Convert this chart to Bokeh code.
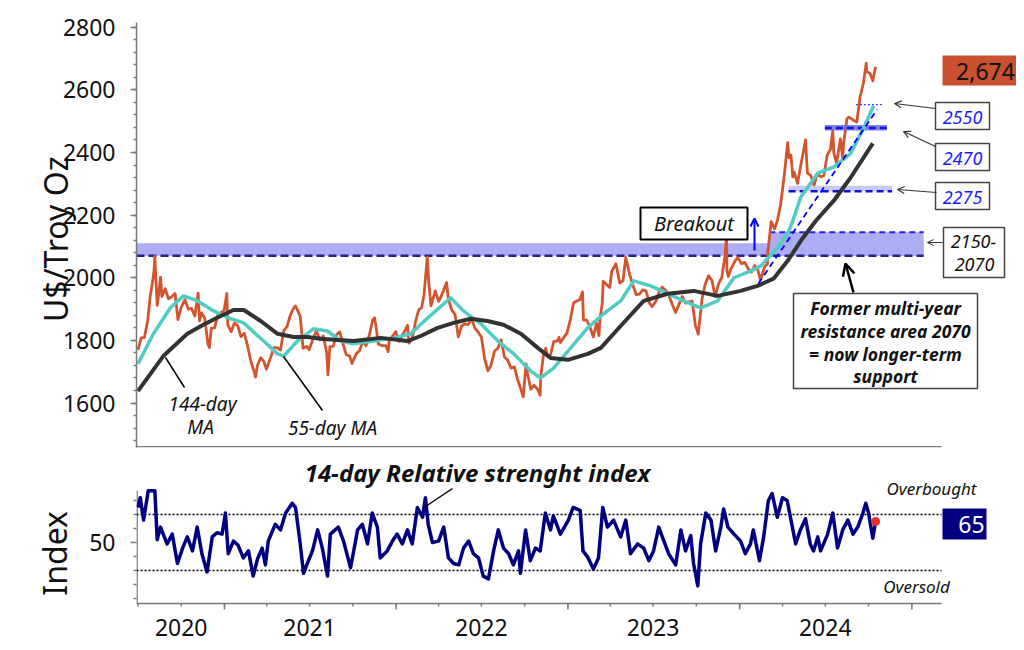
import pandas as pd
from bokeh.plotting import figure
from bokeh.layouts import column
from bokeh.models import (Range1d, LinearAxis, FixedTicker, Label, Arrow, OpenHead,
                          BoxAnnotation, CustomJSTickFormatter, ColumnDataSource)
from bokeh.embed import file_html
from bokeh.resources import INLINE

FONT = "Noto Sans"

# ---------------- data ----------------
price_series = [
    ("2020-07-01", 1770), ("2020-07-08", 1808), ("2020-07-15", 1810), ("2020-07-22", 1865),
    ("2020-07-27", 1940), ("2020-07-31", 1975), ("2020-08-04", 2019), ("2020-08-06", 2068),
    ("2020-08-07", 2035), ("2020-08-11", 1912), ("2020-08-14", 1945), ("2020-08-18", 2002),
    ("2020-08-21", 1940), ("2020-08-28", 1965), ("2020-09-04", 1933), ("2020-09-11", 1940),
    ("2020-09-18", 1950), ("2020-09-24", 1866), ("2020-10-01", 1905), ("2020-10-09", 1930),
    ("2020-10-16", 1900), ("2020-10-23", 1902), ("2020-10-30", 1878), ("2020-11-06", 1951),
    ("2020-11-09", 1862), ("2020-11-13", 1888), ("2020-11-20", 1871), ("2020-11-27", 1788),
    ("2020-11-30", 1777), ("2020-12-04", 1839), ("2020-12-11", 1840), ("2020-12-18", 1882),
    ("2020-12-31", 1895),
    ("2021-01-06", 1950), ("2021-01-08", 1850), ("2021-01-15", 1828), ("2021-01-22", 1855),
    ("2021-01-29", 1848), ("2021-02-05", 1812), ("2021-02-12", 1823), ("2021-02-19", 1783),
    ("2021-02-26", 1734), ("2021-03-05", 1700), ("2021-03-08", 1683), ("2021-03-12", 1720),
    ("2021-03-19", 1745), ("2021-03-26", 1732), ("2021-03-31", 1708), ("2021-04-09", 1745),
    ("2021-04-16", 1777), ("2021-04-23", 1777), ("2021-04-30", 1769), ("2021-05-07", 1831),
    ("2021-05-14", 1844), ("2021-05-21", 1881), ("2021-05-28", 1903), ("2021-06-01", 1910),
    ("2021-06-11", 1877), ("2021-06-17", 1775), ("2021-06-25", 1781), ("2021-06-30", 1770),
    ("2021-07-09", 1808), ("2021-07-15", 1830), ("2021-07-23", 1802), ("2021-07-30", 1814),
    ("2021-08-06", 1763), ("2021-08-09", 1690), ("2021-08-13", 1780), ("2021-08-20", 1781),
    ("2021-08-27", 1818), ("2021-09-03", 1827), ("2021-09-10", 1788), ("2021-09-17", 1754),
    ("2021-09-24", 1750), ("2021-09-29", 1726), ("2021-10-08", 1757), ("2021-10-15", 1767),
    ("2021-10-22", 1796), ("2021-10-29", 1783), ("2021-11-05", 1818), ("2021-11-12", 1865),
    ("2021-11-16", 1872), ("2021-11-19", 1846), ("2021-11-24", 1788), ("2021-12-03", 1783),
    ("2021-12-10", 1783), ("2021-12-15", 1764), ("2021-12-17", 1798), ("2021-12-31", 1828),
    ("2022-01-07", 1797), ("2022-01-14", 1817), ("2022-01-21", 1835), ("2022-01-25", 1848),
    ("2022-01-28", 1791), ("2022-02-04", 1807), ("2022-02-11", 1859), ("2022-02-18", 1898),
    ("2022-02-24", 1904), ("2022-03-01", 1943), ("2022-03-08", 2066), ("2022-03-11", 1988),
    ("2022-03-16", 1910), ("2022-03-18", 1921), ("2022-03-25", 1958), ("2022-04-01", 1925),
    ("2022-04-08", 1945), ("2022-04-18", 1985), ("2022-04-22", 1931), ("2022-04-29", 1897),
    ("2022-05-06", 1883), ("2022-05-13", 1811), ("2022-05-20", 1846), ("2022-05-27", 1853),
    ("2022-06-03", 1850), ("2022-06-10", 1871), ("2022-06-17", 1840), ("2022-06-24", 1827),
    ("2022-07-01", 1811), ("2022-07-08", 1742), ("2022-07-15", 1703), ("2022-07-21", 1718),
    ("2022-07-29", 1766), ("2022-08-05", 1775), ("2022-08-12", 1802), ("2022-08-19", 1747),
    ("2022-08-26", 1737), ("2022-09-02", 1712), ("2022-09-09", 1716), ("2022-09-16", 1675),
    ("2022-09-23", 1644), ("2022-09-28", 1620), ("2022-10-04", 1725), ("2022-10-07", 1695),
    ("2022-10-14", 1644), ("2022-10-21", 1657), ("2022-10-28", 1645), ("2022-11-03", 1625),
    ("2022-11-04", 1680), ("2022-11-10", 1755), ("2022-11-15", 1775), ("2022-11-18", 1751),
    ("2022-11-25", 1755), ("2022-12-02", 1797), ("2022-12-09", 1798), ("2022-12-13", 1810),
    ("2022-12-16", 1793), ("2022-12-30", 1824),
    ("2023-01-06", 1865), ("2023-01-13", 1920), ("2023-01-20", 1926), ("2023-01-26", 1930),
    ("2023-02-01", 1955), ("2023-02-03", 1865), ("2023-02-10", 1865), ("2023-02-17", 1842),
    ("2023-02-24", 1811), ("2023-03-03", 1855), ("2023-03-08", 1815), ("2023-03-10", 1868),
    ("2023-03-15", 1918), ("2023-03-17", 1989), ("2023-03-20", 1985), ("2023-03-24", 1978),
    ("2023-03-31", 1969), ("2023-04-04", 2020), ("2023-04-13", 2045), ("2023-04-21", 1983),
    ("2023-04-28", 1990), ("2023-05-04", 2065), ("2023-05-12", 2011), ("2023-05-19", 1977),
    ("2023-05-26", 1946), ("2023-06-02", 1948), ("2023-06-09", 1961), ("2023-06-16", 1958),
    ("2023-06-23", 1920), ("2023-06-29", 1908), ("2023-07-07", 1925), ("2023-07-14", 1955),
    ("2023-07-20", 1970), ("2023-07-28", 1959), ("2023-08-04", 1942), ("2023-08-11", 1914),
    ("2023-08-18", 1889), ("2023-08-25", 1915), ("2023-09-01", 1940), ("2023-09-08", 1919),
    ("2023-09-15", 1923), ("2023-09-22", 1925), ("2023-09-29", 1848), ("2023-10-05", 1820),
    ("2023-10-13", 1932), ("2023-10-20", 1981), ("2023-10-27", 2006), ("2023-11-03", 1992),
    ("2023-11-10", 1940), ("2023-11-17", 1980), ("2023-11-24", 2001), ("2023-12-01", 2071),
    ("2023-12-04", 2135), ("2023-12-05", 2020), ("2023-12-08", 2004), ("2023-12-13", 2027),
    ("2023-12-22", 2053), ("2023-12-28", 2065),
    ("2024-01-05", 2045), ("2024-01-12", 2049), ("2024-01-19", 2029), ("2024-01-26", 2018),
    ("2024-02-02", 2039), ("2024-02-09", 2024), ("2024-02-14", 1992), ("2024-02-23", 2035),
    ("2024-02-29", 2044), ("2024-03-01", 2083), ("2024-03-08", 2179), ("2024-03-15", 2156),
    ("2024-03-21", 2181), ("2024-03-28", 2233), ("2024-04-05", 2329), ("2024-04-12", 2431),
    ("2024-04-15", 2383), ("2024-04-19", 2392), ("2024-04-23", 2322), ("2024-04-26", 2337),
    ("2024-05-03", 2301), ("2024-05-10", 2360), ("2024-05-17", 2415), ("2024-05-20", 2440),
    ("2024-05-24", 2334), ("2024-05-31", 2327), ("2024-06-07", 2294), ("2024-06-14", 2333),
    ("2024-06-21", 2322), ("2024-06-28", 2326), ("2024-07-05", 2391), ("2024-07-12", 2411),
    ("2024-07-17", 2470), ("2024-07-19", 2400), ("2024-07-25", 2365), ("2024-08-02", 2443),
    ("2024-08-07", 2382), ("2024-08-09", 2431), ("2024-08-16", 2507), ("2024-08-20", 2513),
    ("2024-08-30", 2503), ("2024-09-06", 2497), ("2024-09-13", 2578), ("2024-09-20", 2621),
    ("2024-09-26", 2685), ("2024-09-27", 2658), ("2024-10-04", 2653), ("2024-10-10", 2629),
    ("2024-10-16", 2674),
]

ma55_series = [
    ("2020-07-01", 1725), ("2020-08-03", 1821), ("2020-09-08", 1904), ("2020-10-06", 1942),
    ("2020-11-05", 1926), ("2020-12-09", 1894), ("2021-01-14", 1869), ("2021-02-11", 1856),
    ("2021-03-25", 1798), ("2021-04-24", 1757), ("2021-05-07", 1750), ("2021-06-05", 1798),
    ("2021-07-09", 1837), ("2021-08-08", 1830), ("2021-09-05", 1798), ("2021-10-02", 1789),
    ("2021-11-14", 1798), ("2021-12-27", 1808), ("2022-02-01", 1821), ("2022-03-09", 1872),
    ("2022-04-27", 1936), ("2022-05-24", 1894), ("2022-06-30", 1853), ("2022-08-05", 1798),
    ("2022-09-08", 1757), ("2022-10-14", 1702), ("2022-11-04", 1680), ("2022-12-02", 1712),
    ("2023-01-07", 1776), ("2023-02-12", 1840), ("2023-03-18", 1885), ("2023-04-23", 1926),
    ("2023-05-21", 1990), ("2023-06-26", 1974), ("2023-09-04", 1926), ("2023-10-10", 1904),
    ("2023-11-15", 1926), ("2023-12-20", 2000), ("2024-01-25", 2022), ("2024-02-15", 2038),
    ("2024-03-22", 2096), ("2024-04-12", 2141), ("2024-04-23", 2182), ("2024-05-10", 2258),
    ("2024-06-15", 2334), ("2024-07-19", 2353), ("2024-08-24", 2397), ("2024-09-21", 2480),
    ("2024-10-12", 2550),
]

ma144_series = [
    ("2020-07-01", 1638), ("2020-08-24", 1750), ("2020-10-14", 1821), ("2020-11-17", 1850),
    ("2020-12-24", 1878), ("2021-01-20", 1897), ("2021-02-11", 1897), ("2021-03-19", 1862),
    ("2021-04-24", 1821), ("2021-05-28", 1811), ("2021-06-27", 1811), ("2021-07-24", 1805),
    ("2021-10-02", 1798), ("2021-11-29", 1808), ("2022-01-25", 1798), ("2022-02-22", 1814),
    ("2022-03-30", 1840), ("2022-05-03", 1856), ("2022-06-08", 1869), ("2022-07-14", 1862),
    ("2022-08-17", 1850), ("2022-09-23", 1821), ("2022-10-29", 1776), ("2022-11-25", 1744),
    ("2023-01-01", 1738), ("2023-02-12", 1757), ("2023-03-12", 1776), ("2023-04-23", 1846),
    ("2023-06-11", 1926), ("2023-08-01", 1949), ("2023-09-25", 1958), ("2023-11-15", 1942),
    ("2024-01-03", 1958), ("2024-02-08", 1974), ("2024-03-13", 1997), ("2024-04-12", 2054),
    ("2024-05-10", 2118), ("2024-06-11", 2182), ("2024-07-19", 2246), ("2024-08-24", 2320),
    ("2024-10-10", 2429),
]

rsi_series = [
    ("2020-07-01", 75), ("2020-07-06", 82), ("2020-07-13", 66), ("2020-07-23", 87),
    ("2020-07-30", 87), ("2020-08-06", 87), ("2020-08-11", 52), ("2020-08-18", 61),
    ("2020-09-01", 49), ("2020-09-12", 56), ("2020-09-23", 35), ("2020-10-04", 46),
    ("2020-10-14", 54), ("2020-10-25", 44), ("2020-11-04", 61), ("2020-11-14", 42),
    ("2020-11-25", 29), ("2020-12-06", 54), ("2020-12-16", 57), ("2020-12-27", 56),
    ("2021-01-03", 71), ("2021-01-09", 42), ("2021-01-20", 51), ("2021-01-30", 48),
    ("2021-02-10", 39), ("2021-02-21", 44), ("2021-03-03", 26), ("2021-03-12", 38),
    ("2021-03-22", 46), ("2021-03-29", 34), ("2021-04-04", 51), ("2021-04-19", 63),
    ("2021-04-30", 59), ("2021-05-11", 71), ("2021-05-25", 78), ("2021-06-01", 75),
    ("2021-06-11", 49), ("2021-06-18", 28), ("2021-06-26", 35), ("2021-07-07", 44),
    ("2021-07-18", 59), ("2021-07-28", 46), ("2021-08-08", 26), ("2021-08-14", 56),
    ("2021-08-31", 61), ("2021-09-11", 51), ("2021-09-26", 32), ("2021-10-11", 59),
    ("2021-10-21", 63), ("2021-11-01", 49), ("2021-11-11", 71), ("2021-11-22", 61),
    ("2021-11-28", 39), ("2021-12-13", 44), ("2021-12-24", 51),
    ("2022-01-03", 56), ("2022-01-14", 49), ("2022-01-25", 59), ("2022-02-04", 49),
    ("2022-02-15", 75), ("2022-02-26", 68), ("2022-03-04", 82), ("2022-03-10", 63),
    ("2022-03-19", 50), ("2022-04-01", 51), ("2022-04-12", 61), ("2022-04-22", 39),
    ("2022-05-03", 35), ("2022-05-14", 34), ("2022-05-24", 46), ("2022-06-04", 51),
    ("2022-06-14", 42), ("2022-06-25", 39), ("2022-07-05", 26), ("2022-07-16", 24),
    ("2022-07-27", 44), ("2022-08-06", 59), ("2022-08-17", 46), ("2022-08-28", 42),
    ("2022-09-07", 34), ("2022-09-18", 44), ("2022-09-22", 28), ("2022-10-03", 59),
    ("2022-10-13", 37), ("2022-10-24", 46), ("2022-11-03", 44), ("2022-11-14", 71),
    ("2022-11-25", 59), ("2022-12-01", 69), ("2022-12-16", 56),
    ("2023-01-02", 66), ("2023-01-12", 75), ("2023-01-27", 73), ("2023-02-02", 44),
    ("2023-02-13", 39), ("2023-02-24", 31), ("2023-03-07", 39), ("2023-03-16", 75),
    ("2023-03-26", 61), ("2023-04-08", 66), ("2023-04-23", 54), ("2023-05-04", 66),
    ("2023-05-14", 42), ("2023-05-29", 49), ("2023-06-11", 46), ("2023-06-22", 37),
    ("2023-07-02", 44), ("2023-07-13", 61), ("2023-07-24", 51), ("2023-08-03", 42),
    ("2023-08-18", 34), ("2023-08-29", 59), ("2023-09-08", 44), ("2023-09-19", 55),
    ("2023-09-25", 35), ("2023-10-04", 19), ("2023-10-10", 49), ("2023-10-21", 71),
    ("2023-11-01", 66), ("2023-11-11", 44), ("2023-11-22", 61), ("2023-11-28", 74),
    ("2023-12-07", 61), ("2023-12-20", 56),
    ("2024-01-03", 51), ("2024-01-13", 42), ("2024-01-24", 49), ("2024-01-30", 59),
    ("2024-02-12", 37), ("2024-02-21", 54), ("2024-03-02", 80), ("2024-03-10", 85),
    ("2024-03-21", 68), ("2024-04-01", 82), ("2024-04-11", 80), ("2024-04-18", 68),
    ("2024-04-29", 49), ("2024-05-09", 59), ("2024-05-20", 67), ("2024-05-30", 49),
    ("2024-06-06", 44), ("2024-06-15", 54), ("2024-06-21", 44), ("2024-07-06", 56),
    ("2024-07-17", 71), ("2024-07-27", 46), ("2024-08-07", 59), ("2024-08-18", 66),
    ("2024-08-29", 56), ("2024-09-08", 61), ("2024-09-19", 71), ("2024-09-25", 78),
    ("2024-10-01", 71), ("2024-10-10", 53), ("2024-10-16", 65),
]

# resistance / support levels
zone_start = ["2020-06-28", "2024-03-04"]
zone_end = ["2025-01-26", "2025-01-26"]
zone_low = [2070, 2070]
zone_high = [2110, 2145]
zone_line_levels = [2070, 2145]

sup_start = ["2024-04-14", "2024-06-30"]
sup_end = ["2024-11-20", "2024-11-09"]
sup_level = [2276, 2478]
sup_band_low = [2276, 2470]
sup_band_high = [2294, 2488]

res_start, res_end, res_level = "2024-09-04", "2024-11-02", 2553
trend_dates = ["2024-02-10", "2024-10-19"]
trend_values = [1982, 2537]

price_ticks = list(range(1600, 2801, 200))
price_minor = list(range(1480, 2801, 40))
rsi_ticks = [50]
rsi_minor = [10, 20, 30, 40, 60, 70, 80]
rsi_overbought, rsi_oversold = 70, 30
rsi_axis_top, rsi_axis_bottom = 87, 6.4
last_price_text = "2,674"
last_rsi_text = "65"
axis_start, axis_end = "2020-06-28", "2025-03-05"

# ---------------- helpers ----------------
def ms(s):
    return pd.Timestamp(s).value / 1e6

FL, FR = 136, 941           # page px of the drawn axes' left / right end
X0 = ms(axis_start)
MS_PER_PX = (ms(axis_end) - X0) / (FR - FL)

def X(px):
    return X0 + (px - FL) * MS_PER_PX

X_FRAME_END = X(1016)

Y_LO, Y_HI = 1458, 2815
FT1, FB1 = 22, 447
P1_H = 452

def Y1(py):
    return Y_HI - (py - FT1) * (Y_HI - Y_LO) / (FB1 - FT1)

def Y2(py):   # RSI panel: 70 at y=514, 1.4 px per point
    return 70 - (py - 514) / 1.4

R_TOP, R_BOT = Y2(P1_H), Y2(612)

AX = "#7a7a7a"
TXT = "#111111"
PRICE_C = "#D3552F"
MA55_C = "#52CBC4"
MA144_C = "#333333"
NAVY = "#000080"
BAND_C = "#ADADF5"
NBSP = "\u00a0"

def series_src(series):
    return ColumnDataSource(dict(x=[ms(d) for d, _ in series], y=[v for _, v in series]))

def add_label(fig, px, py, text, yf, size, style="normal", color=TXT, align="center"):
    fig.add_layout(Label(x=X(px), y=yf(py), text=text, text_font=FONT,
                         text_font_size=f"{size}px", text_font_style=style,
                         text_color=color, text_align=align, text_baseline="middle"))

def add_box(fig, l, r, t, b, yf, fill="white", line="#444444", lw=1.5):
    fig.add_layout(BoxAnnotation(left=X(l), right=X(r), top=yf(t), bottom=yf(b),
                                 fill_color=fill, fill_alpha=1.0, line_color=line,
                                 line_alpha=1.0 if line else 0, line_width=lw))

def add_arrow(fig, x0, y0, x1, y1, yf, color="#333333", lw=1.2, head=7):
    end = OpenHead(size=head, line_color=color, line_width=lw) if head else None
    fig.add_layout(Arrow(end=end, x_start=X(x0), y_start=yf(y0), x_end=X(x1), y_end=yf(y1),
                         line_color=color, line_width=lw))

def y_axis(label, ticks, minor, label_standoff, line=True):
    return LinearAxis(ticker=FixedTicker(ticks=ticks, minor_ticks=minor),
                      axis_label=label, axis_label_text_font=FONT,
                      axis_label_text_font_size="32px", axis_label_text_font_style="normal",
                      axis_label_text_color=TXT, axis_label_standoff=label_standoff,
                      major_label_text_font=FONT, major_label_text_font_size="23px",
                      major_label_text_color=TXT, major_label_standoff=15,
                      axis_line_color=AX if line else None, axis_line_width=1.5,
                      major_tick_line_color=AX, minor_tick_line_color=AX,
                      major_tick_line_width=1.5, minor_tick_line_width=1.5,
                      major_tick_out=6, major_tick_in=0, minor_tick_out=3, minor_tick_in=0)

# ---------------- top panel ----------------
p1 = figure(width=1016, height=P1_H, x_range=Range1d(X0, X_FRAME_END),
            y_range=Range1d(Y_LO, Y_HI), title=None,
            x_axis_location=None, y_axis_location=None, output_backend="svg",
            toolbar_location=None, min_border_left=136, min_border_right=0,
            min_border_top=FT1, min_border_bottom=P1_H - FB1)
p1.outline_line_color = None
p1.background_fill_color = "white"
p1.border_fill_color = "white"
p1.grid.visible = False
p1.add_layout(y_axis("U$/Troy Oz" + NBSP, price_ticks, price_minor, -17), "left")

# bottom axis line of the price panel (ends where the time axis ends)
p1.segment(x0=[X0], x1=[ms(axis_end)], y0=[Y1(446.3)], y1=[Y1(446.3)],
           line_color=AX, line_width=1.5)

# resistance zone 2070-2150
p1.quad(left=[ms(d) for d in zone_start], right=[ms(d) for d in zone_end],
        bottom=zone_low, top=zone_high, fill_color=BAND_C, line_color=None)
p1.segment(x0=[ms(zone_start[0])], x1=[ms(zone_end[0])], y0=[zone_line_levels[0]],
           y1=[zone_line_levels[0]], line_color="#23238C", line_width=2.5, line_dash="8 4")
p1.segment(x0=[ms(zone_start[1])], x1=[ms(zone_end[1])], y0=[zone_line_levels[1]],
           y1=[zone_line_levels[1]], line_color="#2222E6", line_width=2, line_dash="6 4")

# price
p1.line("x", "y", source=series_src(price_series), line_color=PRICE_C, line_width=2.8,
        line_join="round")

# support bands
p1.quad(left=[ms(d) for d in sup_start], right=[ms(d) for d in sup_end],
        bottom=sup_band_low, top=sup_band_high,
        fill_color=["#BCC2F3", "#6C6CEA"], fill_alpha=0.85, line_color=None)
p1.segment(x0=[ms(d) for d in sup_start], x1=[ms(d) for d in sup_end],
           y0=sup_level, y1=sup_level, line_color="#1212E0", line_width=2.5, line_dash="7 4")
p1.segment(x0=[ms(res_start)], x1=[ms(res_end)], y0=[res_level], y1=[res_level],
           line_color="#3A3AFF", line_width=1.2, line_dash="2 2")

# moving averages
p1.line("x", "y", source=series_src(ma55_series), line_color=MA55_C, line_width=3.5,
        line_join="round")
p1.line("x", "y", source=series_src(ma144_series), line_color=MA144_C, line_width=4,
        line_join="round")

# trend line
p1.line([ms(d) for d in trend_dates], trend_values, line_color="#0000FF", line_width=1.8,
        line_dash="6 4")

# annotations top
add_label(p1, 202, 403, "144-day", Y1, 19, "italic")
add_label(p1, 200, 426, "MA", Y1, 19, "italic")
add_arrow(p1, 165, 357, 184, 387, Y1, color="black", lw=1.5, head=None)
add_label(p1, 332, 427, "55-day MA", Y1, 19, "italic")
add_arrow(p1, 283, 356, 322, 410, Y1, color="black", lw=1.5, head=None)

add_box(p1, 640, 747, 207, 239, Y1, line="black", lw=2)
add_label(p1, 693.5, 223, "Breakout", Y1, 20, "italic")
add_arrow(p1, 754, 250, 754, 218, Y1, color="#0000FF", lw=2, head=8)

add_box(p1, 793, 977, 293, 388, Y1, line="#444444", lw=1.5)
for txt, py in [("Former multi-year", 307), ("resistance area 2070", 330),
                ("= now longer-term", 353), ("support", 375)]:
    add_label(p1, 885, py, txt, Y1, 17.5, "bold italic")
add_arrow(p1, 853, 292, 845, 263, Y1, color="black", lw=2.5, head=12)

add_box(p1, 943, 1004, 227, 277, Y1)
add_label(p1, 973, 240.5, "2150-", Y1, 18, "italic")
add_label(p1, 974, 263.5, "2070", Y1, 18, "italic")
add_arrow(p1, 942, 242, 927, 242, Y1, head=6, lw=1)

for (t, b, txt, ty, ax0, ay0, ax1, ay1) in [
        (102, 129, "2550", 117, 935, 108, 894, 103),
        (143, 170, "2470", 158, 935, 146, 903, 131),
        (182, 209, "2275", 197, 936, 192, 897, 189)]:
    add_box(p1, 935, 989, t, b, Y1)
    add_label(p1, 962, ty, txt, Y1, 18, "italic", color="#1A1AFF")
    add_arrow(p1, ax0, ay0, ax1, ay1, Y1, head=7, lw=1.2)

add_box(p1, 942, 1016, 55, 85, Y1, fill="#C9512F", line=None, lw=0)
add_label(p1, 985, 70.5, last_price_text, Y1, 23)

# ---------------- RSI panel ----------------
P2_H = 642 - P1_H
p2 = figure(width=1016, height=P2_H, x_range=p1.x_range, y_range=Range1d(R_BOT, R_TOP),
            title=None, x_axis_location=None, y_axis_location=None, output_backend="svg",
            toolbar_location=None, min_border_left=136, min_border_right=0,
            min_border_top=0, min_border_bottom=30)
p2.outline_line_color = None
p2.background_fill_color = "white"
p2.border_fill_color = "white"
p2.grid.visible = False
p2.add_layout(y_axis("Index" + NBSP * 5, rsi_ticks, rsi_minor, 10, line=False), "left")

year_bounds = [ms(d) for d in pd.date_range("2021-01-01", "2025-01-01", freq="YS")]
quarters = [ms(d) for d in pd.date_range("2020-07-01", "2025-01-01", freq="QS")]
year_label_pos = [ms(d) for d in ["2020-10-01", "2021-07-01", "2022-07-01",
                                  "2023-07-01", "2024-07-01"]]

xlab = LinearAxis(ticker=FixedTicker(ticks=year_label_pos, minor_ticks=[]),
                  formatter=CustomJSTickFormatter(
                      code="return String(new Date(tick).getUTCFullYear());"),
                  axis_line_color=None, major_tick_line_color=None,
                  minor_tick_line_color=None, major_tick_out=0, minor_tick_out=0,
                  major_label_text_font=FONT, major_label_text_font_size="23px",
                  major_label_text_color=TXT, major_label_standoff=6)
p2.add_layout(xlab, "below")

# axis lines and time ticks of the RSI panel
p2.segment(x0=[X(136.6)], x1=[X(136.6)], y0=[rsi_axis_top], y1=[rsi_axis_bottom],
           line_color=AX, line_width=1.5)
p2.segment(x0=[X0], x1=[ms(axis_end)], y0=[rsi_axis_bottom], y1=[rsi_axis_bottom],
           line_color=AX, line_width=1.5)
p2.segment(x0=quarters, x1=quarters, y0=[rsi_axis_bottom] * len(quarters),
           y1=[Y2(606)] * len(quarters), line_color=AX, line_width=1.5)
p2.segment(x0=year_bounds, x1=year_bounds, y0=[rsi_axis_bottom] * len(year_bounds),
           y1=[Y2(609)] * len(year_bounds), line_color=AX, line_width=1.5)

# overbought / oversold
p2.segment(x0=[X0, X0], x1=[ms(axis_end)] * 2, y0=[rsi_overbought, rsi_oversold],
           y1=[rsi_overbought, rsi_oversold], line_color="black", line_width=1.5,
           line_dash="2 2")

rsi_src = series_src(rsi_series)
p2.line("x", "y", source=rsi_src, line_color=NAVY, line_width=3.5, line_join="round")
p2.scatter([ms(rsi_series[-1][0])], [rsi_series[-1][1]], size=9, fill_color="#E8302A",
           line_color=None)

add_label(p2, 477, 472, "14-day Relative strenght index", Y2, 24, "bold italic")
add_arrow(p2, 452, 488, 422, 508, Y2, color="black", lw=1.5, head=None)
add_label(p2, 931, 488, "Overbought", Y2, 17, "italic")
add_label(p2, 916, 586, "Oversold", Y2, 17, "italic")
add_box(p2, 942, 986, 508, 539, Y2, fill=NAVY, line=None, lw=0)
add_label(p2, 971, 523.5, last_rsi_text, Y2, 23, color="white")

layout = column(p1, p2, spacing=0)
with open("out.html", "w") as f:
    f.write(file_html(layout, INLINE))
